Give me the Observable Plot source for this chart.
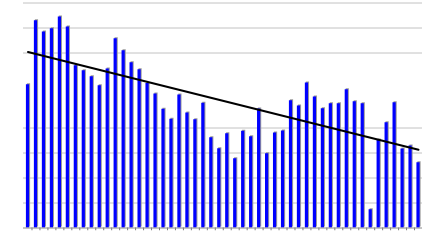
<!DOCTYPE html>
<html>
<head>
<meta charset="utf-8">
<script src="https://cdn.jsdelivr.net/npm/d3@7"></script>
<script src="https://cdn.jsdelivr.net/npm/@observablehq/plot@0.6"></script>
<style>
  html, body { margin: 0; padding: 0; background: #fff; }
  svg { display: block; }
</style>
</head>
<body>
<div id="chart"></div>
<script>
const values = [
  5.73, 8.29, 7.84, 7.97, 8.44, 8.04, 6.49, 6.29, 6.05, 5.69,
  6.36, 7.57, 7.09, 6.61, 6.33, 5.78, 5.36, 4.75, 4.35, 5.32,
  4.60, 4.33, 4.99, 3.61, 3.17, 3.77, 2.77, 3.87, 3.65, 4.76,
  2.97, 3.80, 3.88, 5.09, 4.88, 5.80, 5.24, 4.77, 4.97, 4.97,
  5.53, 5.05, 4.97, 0.73, 3.52, 4.21, 5.01, 3.16, 3.28, 2.61
];
const gridValues = [1, 2, 3, 4, 7, 8, 9];

const data = values.map((v, i) => ({i, v}));
const boundaries = d3.range(values.length - 1).map(i => i + 0.5);

const chart = Plot.plot({
  width: 422,
  height: 245,
  marginLeft: 23,
  marginRight: 0,
  marginTop: 2.5,
  marginBottom: 17.5,
  x: {domain: [-0.565, 49.5], axis: null},
  y: {domain: [0, 9], axis: null},
  marks: [
    Plot.ruleY(gridValues, {stroke: "#c2c2c2", strokeWidth: 1}),
    Plot.ruleX(boundaries, {y1: 0, y2: -0.11, stroke: "#777", strokeWidth: 1}),
    Plot.rectY(data, {x1: d => d.i - 0.2, x2: d => d.i + 0.2, y: "v", fill: "#9a9a9a", dx: 1, dy: -1}),
    Plot.rectY(data, {x1: d => d.i - 0.2, x2: d => d.i + 0.2, y: "v", fill: "#0000ff"}),
    Plot.ruleY([0], {stroke: "#8a8a8a", strokeWidth: 1}),
    Plot.linearRegressionY(data, {x: "i", y: "v", stroke: "#000", strokeWidth: 2, ci: 0})
  ]
});
document.getElementById("chart").append(chart);
</script>
</body>
</html>
